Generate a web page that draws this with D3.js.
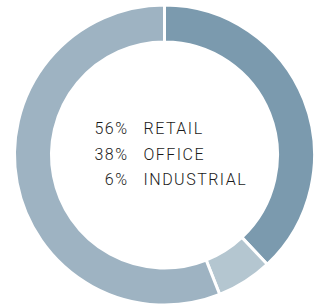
<!DOCTYPE html>
<html>
<head>
<meta charset="utf-8">
<script src="https://cdn.jsdelivr.net/npm/d3@7"></script>
<style>
  body { margin: 0; background: #fff; }
</style>
</head>
<body>
<div id="chart"></div>
<script>
// data
var categories = ["OFFICE", "INDUSTRIAL", "RETAIL"];
var values = [38, 6, 56];
var colors = ["#7b9aae", "#b4c6d0", "#9eb3c2"];
var legendOrder = ["RETAIL", "OFFICE", "INDUSTRIAL"];

var width = 316, height = 308;
var cx = 164.5, cy = 155;
var outerR = 150, innerR = 113;

var svg = d3.select("#chart")
  .append("svg")
    .attr("width", width)
    .attr("height", height);

var g = svg.append("g")
    .attr("transform", "translate(" + cx + "," + cy + ")");

var data = categories.map(function(c, i) { return {name: c, value: values[i], color: colors[i]}; });

var pie = d3.pie()
  .sort(null)
  .value(function(d) { return d.value; });

var arc = d3.arc()
  .innerRadius(innerR)
  .outerRadius(outerR);

g.selectAll("path")
  .data(pie(data))
  .enter()
  .append("path")
    .attr("d", arc)
    .attr("fill", function(d) { return d.data.color; })
    .attr("stroke", "#fff")
    .attr("stroke-width", 3);

// legend in the middle
var y = d3.scalePoint()
  .domain(legendOrder)
  .range([134, 185]);

var legend = svg.append("g")
    .style("font-family", "Roboto, sans-serif")
    .style("font-size", "16px")
    .style("font-weight", 300)
    .style("letter-spacing", "1.5px")
    .style("fill", "#1a1a1a");

legendOrder.forEach(function(name) {
  var d = data.find(function(e) { return e.name === name; });
  legend.append("text")
    .attr("x", 128.5)
    .attr("y", y(name))
    .attr("text-anchor", "end")
    .text(d.value + "%");
  legend.append("text")
    .attr("x", 143.5)
    .attr("y", y(name))
    .text(name);
});
</script>
</body>
</html>
